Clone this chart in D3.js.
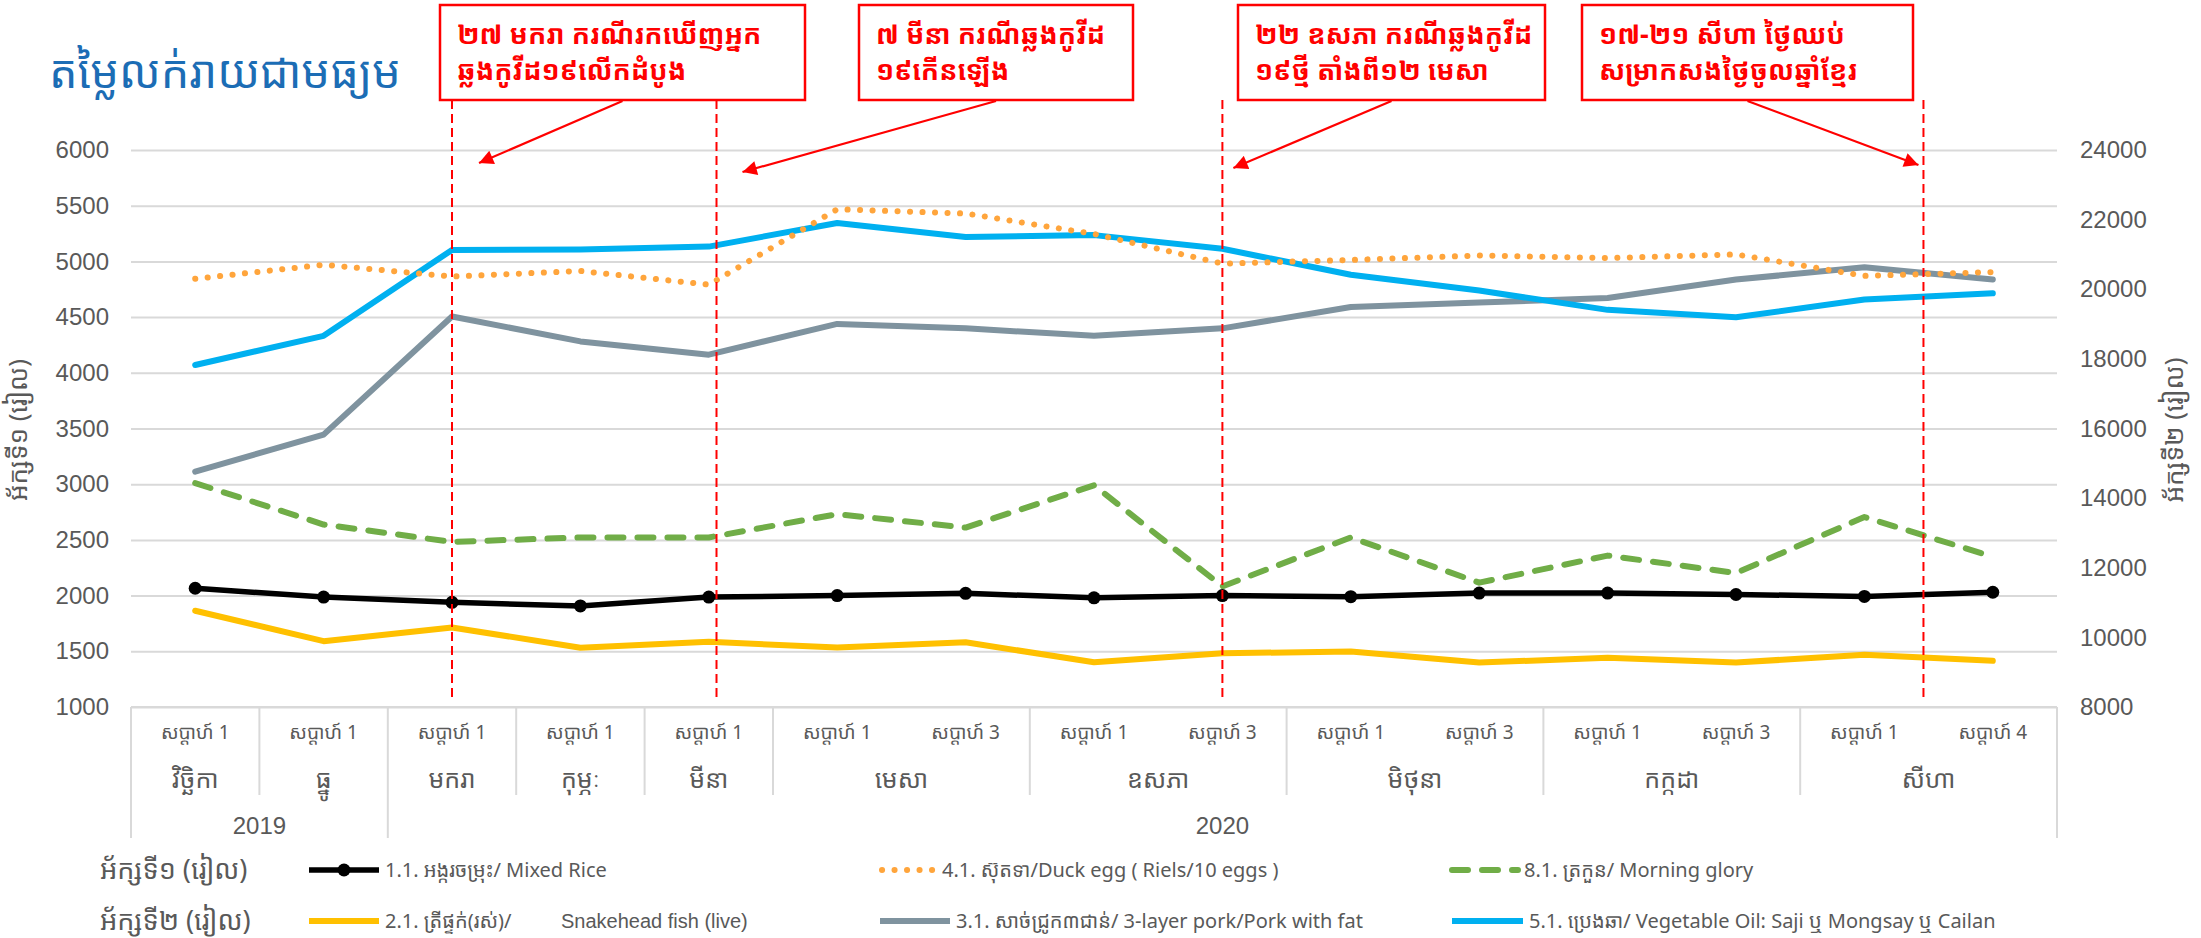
<!DOCTYPE html>
<html>
<head>
<meta charset="utf-8">
<script src="https://cdn.jsdelivr.net/npm/d3@7"></script>
<style>
  body { margin: 0; background: #fff; }
  svg { display: block; }
  text { font-family: "Liberation Sans", Arial, "Noto Sans Khmer", "Khmer OS", sans-serif; }
</style>
</head>
<body>
<svg id="chart"></svg>
<script>
// week ticks, grouped by month and year
const weeks = ["សប្ដាហ៍ 1", "សប្ដាហ៍ 1", "សប្ដាហ៍ 1", "សប្ដាហ៍ 1", "សប្ដាហ៍ 1",
  "សប្ដាហ៍ 1", "សប្ដាហ៍ 3", "សប្ដាហ៍ 1", "សប្ដាហ៍ 3", "សប្ដាហ៍ 1",
  "សប្ដាហ៍ 3", "សប្ដាហ៍ 1", "សប្ដាហ៍ 3", "សប្ដាហ៍ 1", "សប្ដាហ៍ 4"];
const months = [
  { name: "វិច្ឆិកា", n: 1 }, { name: "ធ្នូ", n: 1 }, { name: "មករា", n: 1 },
  { name: "កុម្ភៈ", n: 1 }, { name: "មីនា", n: 1 }, { name: "មេសា", n: 2 },
  { name: "ឧសភា", n: 2 }, { name: "មិថុនា", n: 2 }, { name: "កក្កដា", n: 2 },
  { name: "សីហា", n: 2 }
];
const years = [{ name: "2019", n: 2 }, { name: "2020", n: 13 }];

// axis 1 (left)
const mixedRice = [2066, 1987, 1940, 1907, 1987, 2000, 2020, 1980, 2000, 1990, 2023, 2023, 2010, 1993, 2030];
const duckEgg = [4844, 4970, 4864, 4914, 4791, 5468, 5430, 5246, 4980, 5013, 5053, 5030, 5063, 4870, 4904];
const morningGlory = [3010, 2638, 2482, 2522, 2522, 2731, 2611, 2990, 2083, 2522, 2116, 2359, 2203, 2705, 2349];
// axis 2 (right)
const snakeheadFish = [10765, 9891, 10285, 9700, 9872, 9712, 9859, 9286, 9542, 9594, 9277, 9414, 9277, 9501, 9328];
const pork = [14762, 15824, 19216, 18502, 18120, 19005, 18877, 18662, 18877, 19491, 19619, 19747, 20278, 20630, 20278];
const vegOil = [17824, 18662, 21130, 21140, 21225, 21904, 21500, 21555, 21162, 20416, 19962, 19408, 19194, 19706, 19885];

const leftTicks = d3.range(1000, 6001, 500);
const rightTicks = d3.range(8000, 24001, 2000);

// events, position in week index units
const events = [
  { pos: 2, lines: ["២៧ មករា ករណីរកឃើញអ្នក", "ឆ្លងកូវីដ១៩លើកដំបូង"] },
  { pos: 4.06, lines: ["៧ មីនា ករណីឆ្លងកូវីដ", "១៩កើនឡើង"] },
  { pos: 8, lines: ["២២ ឧសភា ករណីឆ្លងកូវីដ", "១៩ថ្មី តាំងពី១២ មេសា"] },
  { pos: 13.46, lines: ["១៧-២១ សីហា ថ្ងៃឈប់", "សម្រាកសងថ្ងៃចូលឆ្នាំខ្មែរ"] }
];

const W = 2201, H = 938;
const margin = { top: 150, right: 144, bottom: 231, left: 131 };
const khmer = `"Noto Sans Khmer", "Khmer OS", "Khmer OS System", "Liberation Sans", Arial, sans-serif`;
const textCol = "#595959";

const svg = d3.select("#chart").attr("width", W).attr("height", H);

const x = d3.scaleBand().domain(d3.range(weeks.length))
  .range([margin.left, W - margin.right]);
const xPos = d3.scaleLinear().domain([-0.5, weeks.length - 0.5])
  .range([margin.left, W - margin.right]);
const y1 = d3.scaleLinear().domain([1000, 6000]).range([H - margin.bottom, margin.top]);
const y2 = d3.scaleLinear().domain([8000, 24000]).range([H - margin.bottom, margin.top]);
const cx = i => x(i) + x.bandwidth() / 2;

// gridlines + left axis
const gLeft = svg.append("g").attr("transform", `translate(${margin.left},0)`)
  .call(d3.axisLeft(y1).tickValues(leftTicks).tickFormat(d3.format("d"))
    .tickSize(-(W - margin.left - margin.right)).tickPadding(22));
gLeft.select(".domain").remove();
gLeft.selectAll(".tick line").attr("stroke", "#d9d9d9").attr("stroke-width", 2);
gLeft.selectAll(".tick text").attr("fill", textCol).style("font-size", "24px");

const gRight = svg.append("g").attr("transform", `translate(${W - margin.right},0)`)
  .call(d3.axisRight(y2).tickValues(rightTicks).tickFormat(d3.format("d"))
    .tickSize(0).tickPadding(23));
gRight.select(".domain").remove();
gRight.selectAll(".tick text").attr("fill", textCol).style("font-size", "24px");

// axis titles
svg.append("text").attr("transform", `translate(27,430) rotate(-90)`)
  .attr("text-anchor", "middle").attr("fill", textCol).style("font-family", khmer)
  .style("font-size", "26px").text("អ័ក្សទី១ (រៀល)");
svg.append("text").attr("transform", `translate(2183,430) rotate(-90)`)
  .attr("text-anchor", "middle").attr("fill", textCol).style("font-family", khmer)
  .style("font-size", "26px").text("អ័ក្សទី២ (រៀល)");

// category axis, excel style multi level
const y0 = H - margin.bottom;
const axisG = svg.append("g");
axisG.append("line").attr("x1", margin.left).attr("x2", W - margin.right)
  .attr("y1", y0).attr("y2", y0).attr("stroke", "#d9d9d9").attr("stroke-width", 2);

let acc = 0;
const monthStarts = months.map(m => { const s = acc; acc += m.n; return { ...m, s }; });
acc = 0;
const yearStarts = years.map(m => { const s = acc; acc += m.n; return { ...m, s }; });
const yearEdges = new Set(yearStarts.map(d => d.s).concat([weeks.length]));

const edges = monthStarts.map(d => d.s).concat([weeks.length]);
axisG.selectAll(".sep").data(edges).join("line")
  .attr("x1", d => xPos(d - 0.5)).attr("x2", d => xPos(d - 0.5))
  .attr("y1", y0).attr("y2", d => yearEdges.has(d) ? 838 : 795)
  .attr("stroke", "#d9d9d9").attr("stroke-width", 2);

axisG.selectAll(".wk").data(weeks).join("text")
  .attr("x", (d, i) => cx(i)).attr("y", 739)
  .attr("text-anchor", "middle").attr("fill", textCol)
  .style("font-family", khmer).style("font-size", "19px").text(d => d);

axisG.selectAll(".mo").data(monthStarts).join("text")
  .attr("x", d => xPos(d.s - 0.5 + d.n / 2)).attr("y", 788)
  .attr("text-anchor", "middle").attr("fill", textCol)
  .style("font-family", khmer).style("font-size", "25px").text(d => d.name);

axisG.selectAll(".yr").data(yearStarts).join("text")
  .attr("x", d => xPos(d.s - 0.5 + d.n / 2)).attr("y", 834)
  .attr("text-anchor", "middle").attr("fill", textCol)
  .style("font-size", "24px").text(d => d.name);

// series
const series = [
  { key: "fish", values: snakeheadFish, y: y2, color: "#ffc000", width: 6 },
  { key: "pork", values: pork, y: y2, color: "#7f939f", width: 6 },
  { key: "oil", values: vegOil, y: y2, color: "#00b0f0", width: 6 },
  { key: "egg", values: duckEgg, y: y1, color: "#ffa53c", width: 6, dash: "0.1 12.4" },
  { key: "glory", values: morningGlory, y: y1, color: "#70ad47", width: 6, dash: "16 14" },
  { key: "rice", values: mixedRice, y: y1, color: "#000000", width: 5.5, marker: true }
];

const line = d3.line();
series.forEach(s => {
  svg.append("path")
    .attr("d", line(s.values.map((v, i) => [cx(i), s.y(v)])))
    .attr("fill", "none").attr("stroke", s.color).attr("stroke-width", s.width)
    .attr("stroke-linecap", "round").attr("stroke-linejoin", "round")
    .attr("stroke-dasharray", s.dash || null);
  if (s.marker) {
    svg.append("g").selectAll("circle").data(s.values).join("circle")
      .attr("cx", (d, i) => cx(i)).attr("cy", d => s.y(d)).attr("r", 6.5)
      .attr("fill", s.color);
  }
});

// event annotations
const boxes = [
  { left: 440, right: 805, tip: [27, 163] },
  { left: 859, right: 1133, tip: [26, 172] },
  { left: 1238, right: 1545, tip: [11, 168] },
  { left: 1582, right: 1913, tip: [-5, 165] }
];
const red = "#ff0000";
svg.append("defs").append("marker").attr("id", "arr")
  .attr("viewBox", "0 0 10 10").attr("refX", 10).attr("refY", 5)
  .attr("markerWidth", 8).attr("markerHeight", 6.5).attr("orient", "auto")
  .attr("markerUnits", "strokeWidth")
  .append("path").attr("d", "M0,0 L10,5 L0,10 Z").attr("fill", red);

events.forEach((e, k) => {
  const b = boxes[k];
  const lx = xPos(e.pos);
  svg.append("line").attr("x1", lx).attr("x2", lx).attr("y1", 100).attr("y2", 698)
    .attr("stroke", red).attr("stroke-width", 2).attr("stroke-dasharray", "9 5");
  svg.append("rect").attr("x", b.left).attr("y", 5).attr("width", b.right - b.left).attr("height", 95)
    .attr("fill", "#fff").attr("stroke", red).attr("stroke-width", 2.5);
  svg.append("text").attr("x", b.left + 17).attr("y", 44)
    .attr("fill", red).style("font-family", khmer).style("font-size", "27px").style("font-weight", "bold")
    .selectAll("tspan").data(e.lines).join("tspan")
    .attr("x", b.left + 17).attr("dy", (d, i) => i ? 36 : 0).text(d => d);
  const sx = (b.left + b.right) / 2;
  svg.append("line").attr("x1", sx).attr("y1", 101).attr("x2", lx + b.tip[0]).attr("y2", b.tip[1])
    .attr("stroke", red).attr("stroke-width", 2.2).attr("marker-end", "url(#arr)");
});

// title
svg.append("text").attr("x", 49).attr("y", 88)
  .attr("fill", "#1c6db5").style("font-family", khmer).style("font-size", "45px")
  .text("តម្លៃលក់រាយជាមធ្យម");

// legend
const legendRows = [
  { label: "អ័ក្សទី១ (រៀល)", y: 870, items: [
    { key: "rice", x: 309, w: 70, text: "1.1. អង្ករចម្រុះ/ Mixed Rice" },
    { key: "egg", x: 882, w: 54, text: "4.1. ស៊ុតទា/Duck egg ( Riels/10 eggs )" },
    { key: "glory", x: 1452, w: 66, text: "8.1. ត្រកួន/ Morning glory" }
  ] },
  { label: "អ័ក្សទី២ (រៀល)", y: 921, items: [
    { key: "fish", x: 309, w: 70, text: "2.1. ត្រីផ្ទក់(រស់)/", extra: "Snakehead fish (live)" },
    { key: "pork", x: 880, w: 70, text: "3.1. សាច់ជ្រូក៣ជាន់/  3-layer pork/Pork with fat" },
    { key: "oil", x: 1452, w: 71, text: "5.1. ប្រេងឆា/ Vegetable Oil: Saji ឬ Mongsay ឬ Cailan" }
  ] }
];
const byKey = Object.fromEntries(series.map(s => [s.key, s]));
legendRows.forEach(r => {
  svg.append("text").attr("x", 100).attr("y", r.y + 9).attr("fill", textCol)
    .style("font-family", khmer).style("font-size", "27px").text(r.label);
  r.items.forEach(it => {
    const s = byKey[it.key];
    svg.append("line").attr("x1", it.x).attr("x2", it.x + it.w).attr("y1", r.y).attr("y2", r.y)
      .attr("stroke", s.color).attr("stroke-width", s.width)
      .attr("stroke-linecap", s.dash ? "round" : "butt")
      .attr("stroke-dasharray", s.dash || null);
    if (s.marker) {
      svg.append("circle").attr("cx", it.x + it.w / 2).attr("cy", r.y).attr("r", 6.5).attr("fill", s.color);
    }
    svg.append("text").attr("x", it.x + it.w + 6).attr("y", r.y + 7).attr("fill", textCol)
      .style("font-family", khmer).style("font-size", "20px").text(it.text);
    if (it.extra) {
      svg.append("text").attr("x", 561).attr("y", r.y + 7).attr("fill", textCol)
        .style("font-size", "20px").text(it.extra);
    }
  });
});
</script>
</body>
</html>
